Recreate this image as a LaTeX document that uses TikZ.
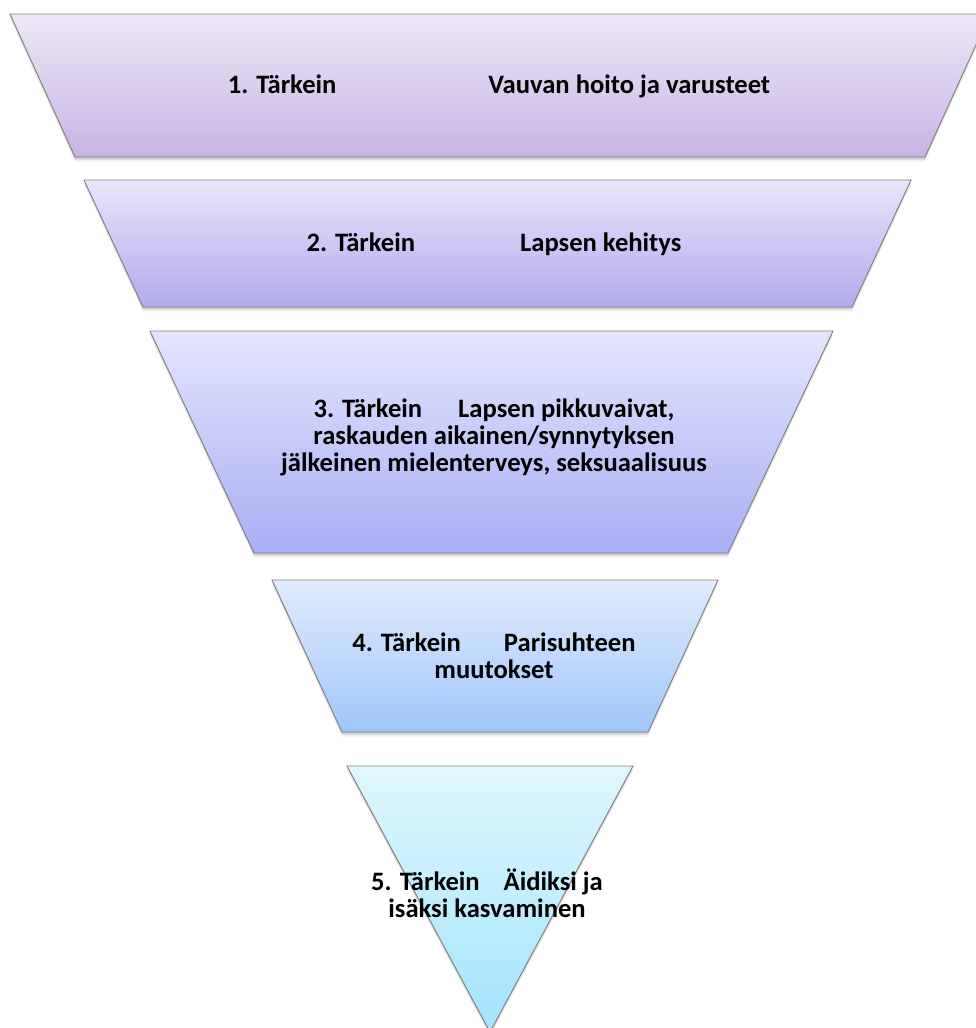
\documentclass[tikz,border=0pt]{standalone}
\usepackage{fontspec}
\setmainfont{Carlito}
\definecolor{edgegray}{RGB}{128,128,128}
\definecolor{aTop}{RGB}{237,232,247}
\definecolor{aBot}{RGB}{200,180,228}
\definecolor{bTop}{RGB}{232,230,249}
\definecolor{bBot}{RGB}{178,170,238}
\definecolor{cTop}{RGB}{228,230,251}
\definecolor{cBot}{RGB}{168,174,245}
\definecolor{dTop}{RGB}{224,236,253}
\definecolor{dBot}{RGB}{160,198,251}
\definecolor{eTop}{RGB}{224,247,254}
\definecolor{eBot}{RGB}{162,228,253}
\begin{document}
\begin{tikzpicture}[x=1pt,y=-1pt,
  softshadow/.style={
    preaction={fill=black,fill opacity=0.10,transform canvas={yshift=-1.5pt}},
    preaction={fill=black,fill opacity=0.08,transform canvas={yshift=-3pt}},
    preaction={fill=black,fill opacity=0.05,transform canvas={yshift=-4.5pt}}},
  band/.style 2 args={softshadow,draw=edgegray,line width=0.9pt,line join=miter,
    top color=#1,bottom color=#2},
  lbl/.style={font=\fontsize{26.6}{27}\selectfont\bfseries,align=center,inner sep=0pt,text=black}]
\useasboundingbox (0,0) rectangle (976,1028);
\clip (0,0) rectangle (976,1028);

% the five bands of the funnel, widest on top
\path[band={aTop}{aBot}] (10,14) -- (990,14) -- (925,157) -- (75,157) -- cycle;
\path[band={bTop}{bBot}] (84,180) -- (911,180) -- (852,307) -- (143,307) -- cycle;
\path[band={cTop}{cBot}] (150,331) -- (833,331) -- (728,553) -- (254,553) -- cycle;
\path[band={dTop}{dBot}] (272,580) -- (718,580) -- (648,732) -- (342,732) -- cycle;
\path[band={eTop}{eBot}] (347,766) -- (633,766) -- (490,1032) -- cycle;

% labels
\node[lbl] (t1) at (499,86) {1. Tärkein\hspace{152pt}Vauvan hoito ja varusteet};
\node[lbl] (t2) at (494,244) {2. Tärkein\hspace{105pt}Lapsen kehitys};
\node[lbl] (t3) at (494,437) {3. Tärkein\hspace{36pt}Lapsen pikkuvaivat,\\raskauden aikainen/synnytyksen\\jälkeinen mielenterveys, seksuaalisuus};
\node[lbl] (t4) at (494,656) {4. Tärkein\hspace{43pt}Parisuhteen\\muutokset};
\node[lbl] (t5) at (487,893) {5. Tärkein\hspace{24pt}Äidiksi ja\\isäksi kasvaminen};
\end{tikzpicture}
\end{document}
